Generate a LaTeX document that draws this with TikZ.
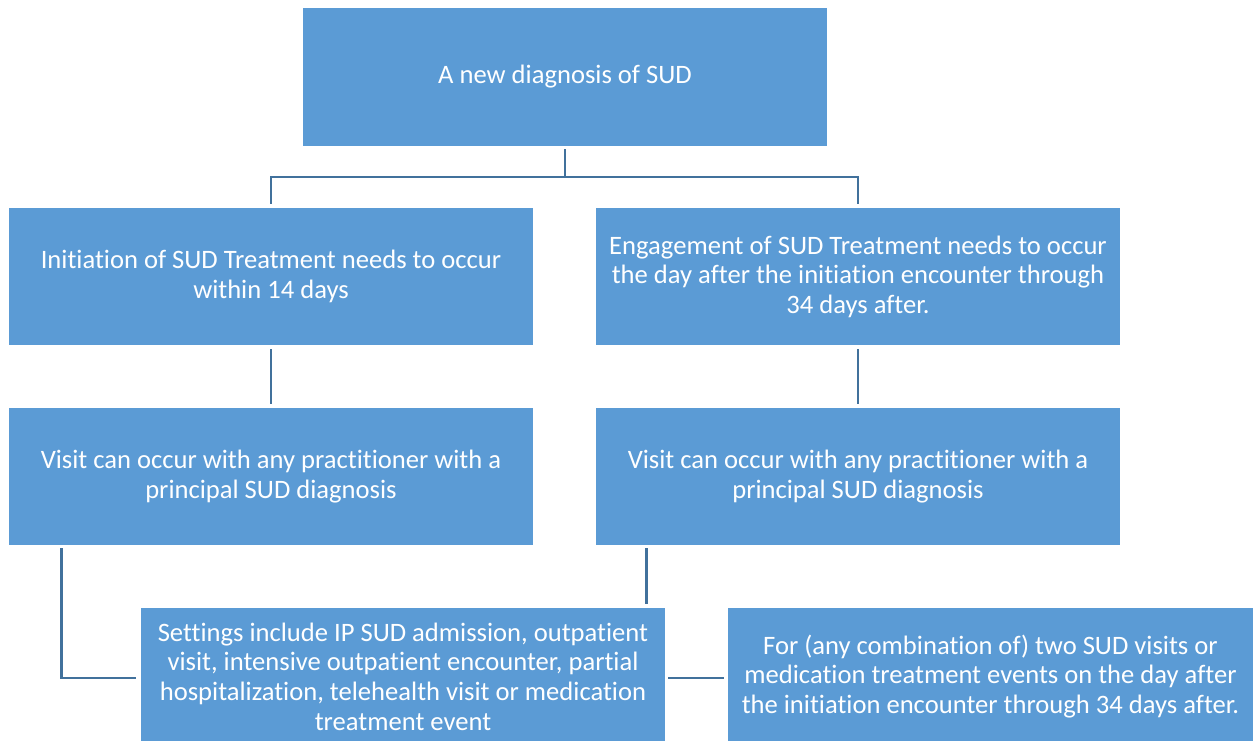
\documentclass[tikz,border=0pt]{standalone}
\usepackage{fontspec}
\setmainfont[Ligatures=NoCommon]{Carlito}
\definecolor{boxblue}{HTML}{5B9BD5}
\definecolor{linkblue}{HTML}{41719C}
\begin{document}
\begin{tikzpicture}[x=1pt,y=-1pt,
  box/.style={draw=none,fill=boxblue,text=white,minimum width=524pt,minimum height=137pt,
    align=center,inner sep=0pt,font=\fontsize{26.6pt}{29.6pt}\selectfont},
  conn/.style={draw=linkblue,line width=2.8pt}]
\useasboundingbox (0,0) rectangle (1253,740);
\node[box,minimum height=138pt] (top) at (565,77) {A new diagnosis of SUD};
\node[box] (L1) at (271,276.5) {Initiation of SUD Treatment needs to occur\\within 14 days};
\node[box] (R1) at (858,276.5) {Engagement of SUD Treatment needs to occur\\the day after the initiation encounter through\\34 days after.};
\node[box] (L2) at (271,476.5) {Visit can occur with any practitioner with a\\principal SUD diagnosis};
\node[box] (R2) at (858,476.5) {Visit can occur with any practitioner with a\\principal SUD diagnosis};
\node[box] (B1) at (403,676.5) {Settings include IP SUD admission, outpatient\\visit, intensive outpatient encounter, partial\\hospitalization, telehealth visit or medication\\treatment event};
\node[box,minimum width=525pt] (B2) at (990.5,676.5) {For (any combination of) two SUD visits or\\medication treatment events on the day after\\the initiation encounter through 34 days after.};
\coordinate (split) at (565,177);
\draw[conn] ([yshift=-3pt]top.south) -- (split);
\draw[conn] (split) -| ([yshift=4pt]L1.north);
\draw[conn] (split) -| ([yshift=4pt]R1.north);
\draw[conn] ([yshift=-4pt]L1.south) -- ([yshift=4pt]L2.north);
\draw[conn] ([yshift=-4pt]R1.south) -- ([yshift=4pt]R2.north);
\draw[conn] ([xshift=53pt,yshift=-3pt]L2.south west) |- ([xshift=-5pt,yshift=-1.5pt]B1.west);
\coordinate (rdrop) at ([xshift=51pt,yshift=-3pt]R2.south west);
\coordinate (btop) at ([yshift=4pt]B1.north);
\draw[conn] (rdrop) -- (rdrop |- btop);
\draw[conn] ([xshift=3pt,yshift=-1.5pt]B1.east) -- ([xshift=-4pt,yshift=-1.5pt]B2.west);
\end{tikzpicture}
\end{document}
